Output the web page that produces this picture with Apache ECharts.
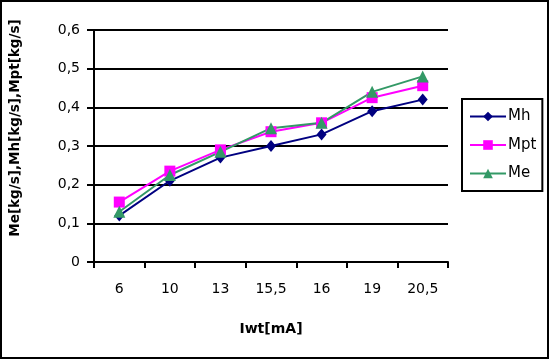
<!DOCTYPE html>
<html><head><meta charset="utf-8">
<script src="https://cdn.jsdelivr.net/npm/echarts@6/dist/echarts.min.js"></script>
<style>html,body{margin:0;padding:0;background:#fff}#c{width:550px;height:359px}</style>
</head><body><div id="c"></div>
<script>
const categories = ['6','10','13','15,5','16','19','20,5'];
const mh = [0.12, 0.21, 0.27, 0.30, 0.33, 0.39, 0.42];
const mpt = [0.155, 0.235, 0.29, 0.337, 0.36, 0.425, 0.456];
const me = [0.13, 0.225, 0.285, 0.346, 0.36, 0.44, 0.48];
const yTicks = [0, 0.1, 0.2, 0.3, 0.4, 0.5, 0.6];
const yName = 'Me[kg/s],Mh[kg/s],Mpt[kg/s]';
const xName = 'Iwt[mA]';

const chart = echarts.init(document.getElementById('c'), null, {renderer:'canvas'});
const font = '"DejaVu Sans", sans-serif';
chart.setOption({
  animation:false,
  textStyle:{fontFamily:font},
  graphic:[
    {type:'rect',shape:{x:1,y:1,width:547,height:357},style:{fill:null,stroke:'#000',lineWidth:2},silent:true},
    {type:'text',x:15,y:128,rotation:Math.PI/2,silent:true,
     style:{text:yName,font:'bold 13.5px "DejaVu Sans", sans-serif',fill:'#000',textAlign:'center',textVerticalAlign:'middle'}}
  ],
  grid:{left:94,right:102,top:30,bottom:97,containLabel:false,outerBoundsMode:'none'},
  legend:{
    orient:'vertical',left:462,top:99,
    data:['Mh','Mpt','Me'],
    borderColor:'#000',borderWidth:2,padding:[10,6,10,7],
    itemWidth:36,itemHeight:12,itemGap:13.5,
    textStyle:{fontSize:15,color:'#000',fontFamily:font,padding:[0,0,0,-3]}
  },
  xAxis:{
    type:'category',data:categories,boundaryGap:true,
    name:xName,nameLocation:'middle',nameGap:60,
    nameTextStyle:{fontSize:14,fontWeight:'bold',color:'#000',fontFamily:font},
    axisLine:{lineStyle:{color:'#000',width:2}},
    axisTick:{show:true,length:6,lineStyle:{color:'#000',width:2}},
    axisLabel:{fontSize:14,color:'#000',margin:20,fontFamily:font}
  },
  yAxis:{
    type:'value',min:0,max:0.6,interval:0.1,
    axisLine:{show:true,lineStyle:{color:'#000',width:2}},
    axisTick:{show:true,length:7,lineStyle:{color:'#000',width:2}},
    splitLine:{lineStyle:{color:'#000',width:2}},
    axisLabel:{fontSize:14,color:'#000',margin:14,fontFamily:font,formatter:v=>String(Math.round(v*10)/10).replace('.',',')}
  },
  series:[
    {name:'Mh',type:'line',data:mh,symbol:'diamond',symbolSize:[10,12],itemStyle:{color:'#000080'},lineStyle:{color:'#000080',width:2}},
    {name:'Mpt',type:'line',data:mpt,symbol:'rect',symbolSize:11,itemStyle:{color:'#FF00FF'},lineStyle:{color:'#FF00FF',width:2}},
    {name:'Me',type:'line',data:me,symbol:'triangle',symbolSize:12,itemStyle:{color:'#339966'},lineStyle:{color:'#339966',width:2}}
  ]
});
</script></body></html>
